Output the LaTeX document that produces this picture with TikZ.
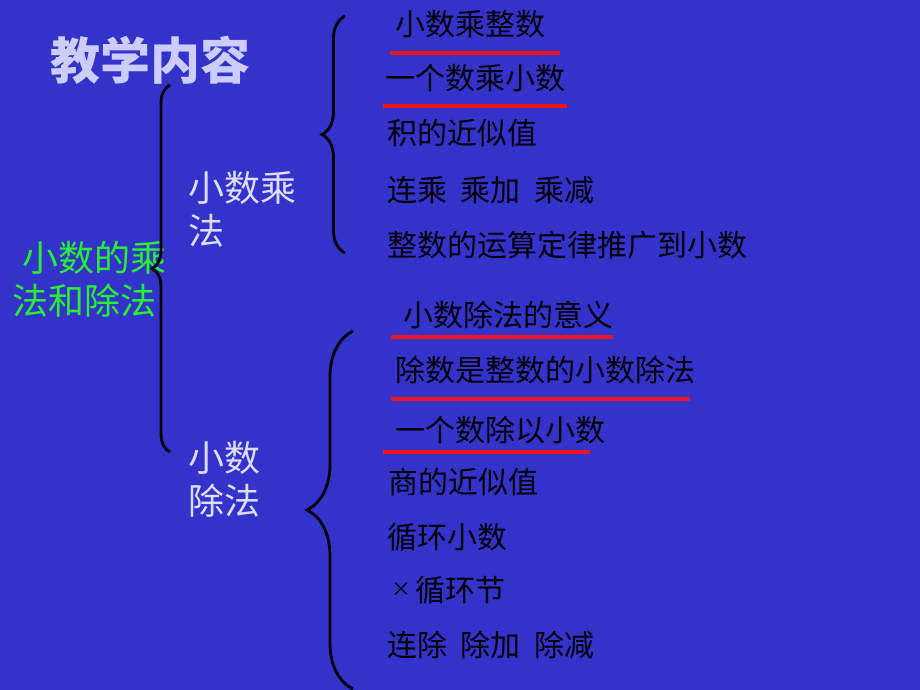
\documentclass[tikz,border=0pt]{standalone}
\usepackage{fontspec}
\usepackage{tikz}
\usetikzlibrary{decorations.pathreplacing}
\newfontfamily\cjk{Noto Sans CJK SC}
\definecolor{slideblue}{RGB}{51,51,204}
\definecolor{titlelav}{RGB}{204,204,255}
\definecolor{headlav}{RGB}{221,221,255}
\definecolor{topicgreen}{RGB}{40,240,50}
\definecolor{markred}{RGB}{240,20,20}
\newcommand{\gap}{\hspace{0.45em}}

\begin{document}
\begin{tikzpicture}[x=1pt, y=-1pt,
  item/.style={anchor=west, inner sep=0pt, text=black, font=\cjk\fontsize{30}{36}\selectfont},
  head/.style={anchor=west, align=left, inner sep=0pt, text=headlav, font=\cjk\fontsize{36}{43}\selectfont},
  curly/.style={decorate, decoration={brace, amplitude=#1}, line width=2.8pt},
  redline/.style={markred, line width=4pt}]
\fill[slideblue] (0,0) rectangle (920,690);
\useasboundingbox (0,0) rectangle (920,690);

\node[anchor=center, inner sep=0pt, text=titlelav, font=\cjk\bfseries\fontsize{50}{60}\selectfont] (title) at (150,60) {教学内容};

% main topic and the two branches
\node[head, text=topicgreen] (topic) at (12,279) {\hspace*{10pt}小数的乘\\法和除法};
\node[head] (mult) at (188,209) {小数乘\\法};
\node[head] (divi) at (188,479) {小数\\除法};

\draw[curly=18] (170,452) -- (170,85);
\draw[curly=23] (345,253) -- (345,16);
\draw[curly=46] (353,689) -- (353,331);

% multiplication items
\node[item] (m1) at (395,24) {小数乘整数};
\node[item] (m2) at (385,78) {一个数乘小数};
\node[item] (m3) at (387,133) {积的近似值};
\node[item] (m4) at (387,190) {连乘\gap 乘加\gap 乘减};
\node[item] (m5) at (387,245) {整数的运算定律推广到小数};
\draw[redline] (390,53) -- (560,53);
\draw[redline] (383,106) -- (567,106);

% division items
\node[item] (d1) at (403,315) {小数除法的意义};
\node[item] (d2) at (395,370) {除数是整数的小数除法};
\node[item] (d3) at (395,430) {一个数除以小数};
\node[item] (d4) at (388,482) {商的近似值};
\node[item] (d5) at (387,537) {循环小数};
\node[item] (d6) at (391,590) {\raisebox{5pt}{\fontsize{20}{20}\selectfont ×}\hspace{4pt}循环节};
\node[item] (d7) at (387,645) {连除\gap 除加\gap 除减};
\draw[redline] (391,337) -- (613,337);
\draw[redline] (391,399) -- (690,399);
\draw[redline] (383,452) -- (590,452);
\end{tikzpicture}
\end{document}
